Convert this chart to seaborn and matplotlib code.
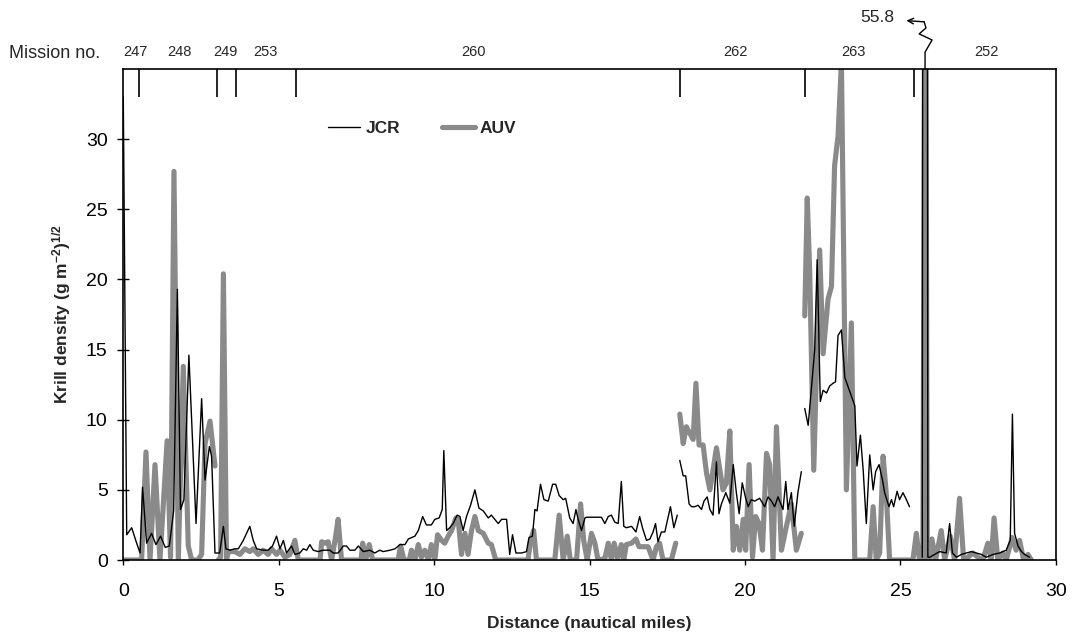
import numpy as np
import pandas as pd
import matplotlib
matplotlib.use("Agg")
import matplotlib.pyplot as plt
from matplotlib.lines import Line2D
import seaborn as sns

# ---------------- data (distance in nautical miles, density (g m^-2)^1/2) ----------------
jcr_seg1 = [(0.00, 33.0), (0.11, 1.8), (0.27, 2.3), (0.43, 1.2), (0.54, 0.5), (0.62, 5.2), (0.75, 1.2),
            (0.91, 1.9), (1.05, 1.1), (1.20, 1.7), (1.35, 0.9), (1.48, 1.0), (1.62, 3.5), (1.74, 19.3),
            (1.84, 3.6), (1.95, 4.3), (2.11, 14.6), (2.34, 2.6), (2.52, 11.5), (2.63, 5.7), (2.77, 8.1),
            (2.84, 7.4), (2.95, 0.5), (3.10, 0.5), (3.22, 2.4), (3.30, 0.8), (3.43, 0.7), (3.59, 0.8),
            (3.70, 0.8), (3.86, 1.4), (4.07, 2.4), (4.18, 1.4), (4.29, 0.8), (4.50, 0.7), (4.66, 0.7),
            (4.80, 1.0), (4.93, 1.7), (5.04, 0.8), (5.15, 1.4), (5.25, 0.5), (5.41, 1.0), (5.52, 0.4),
            (5.68, 0.5), (5.79, 0.8), (5.90, 0.7), (6.00, 1.1), (6.11, 0.7), (6.27, 0.6), (6.43, 0.7),
            (6.65, 0.7), (6.75, 0.5), (6.91, 0.5), (7.08, 1.0), (7.18, 1.0), (7.29, 0.7), (7.45, 0.7),
            (7.56, 1.0), (7.72, 0.6), (7.93, 0.7), (8.09, 0.5), (8.25, 0.7), (8.36, 0.6), (8.58, 0.7),
            (8.74, 0.8), (8.90, 1.1), (9.06, 1.1), (9.17, 1.5), (9.38, 1.7), (9.49, 2.1), (9.63, 3.1),
            (9.75, 2.5), (9.91, 2.5), (10.02, 2.9), (10.16, 3.0), (10.26, 3.6), (10.31, 7.8), (10.40, 2.1),
            (10.50, 2.3), (10.61, 2.6), (10.74, 3.2), (10.83, 3.1), (10.93, 2.1), (11.04, 3.1), (11.17, 3.9),
            (11.31, 5.0), (11.44, 3.7), (11.58, 3.5), (11.74, 3.0), (11.84, 3.2), (11.95, 2.9), (12.06, 2.6),
            (12.17, 2.9), (12.33, 2.9), (12.43, 0.4), (12.52, 1.8), (12.63, 0.5), (12.81, 0.5), (12.97, 0.6),
            (13.05, 1.6), (13.16, 1.7), (13.24, 3.6), (13.31, 3.5), (13.42, 5.4), (13.53, 4.3), (13.67, 4.2),
            (13.81, 5.4), (13.91, 5.4), (14.02, 4.6), (14.15, 4.3), (14.23, 4.4), (14.36, 3.0), (14.47, 2.6),
            (14.56, 3.6), (14.63, 2.9), (14.74, 2.1), (14.85, 3.0), (14.90, 3.05), (15.06, 3.05),
            (15.22, 3.05), (15.38, 3.05), (15.49, 2.6), (15.60, 3.1), (15.70, 3.2), (15.81, 2.7),
            (15.92, 2.6), (16.02, 5.6), (16.10, 2.4), (16.18, 2.3), (16.35, 2.4), (16.49, 2.0), (16.61, 3.1),
            (16.70, 2.3), (16.83, 1.4), (16.94, 1.5), (17.04, 2.0), (17.12, 2.6), (17.20, 1.3), (17.31, 2.0),
            (17.42, 2.0), (17.60, 3.8), (17.71, 2.3), (17.82, 3.2)]
jcr_seg2 = [(17.90, 7.1), (18.01, 6.0), (18.09, 6.0), (18.20, 4.0), (18.28, 3.8), (18.38, 3.8), (18.49, 3.9),
            (18.60, 3.6), (18.68, 4.2), (18.78, 4.5), (18.87, 3.6), (18.97, 3.2), (19.08, 7.0), (19.16, 3.3),
            (19.24, 4.0), (19.38, 4.8), (19.51, 4.05), (19.62, 6.8), (19.72, 4.8), (19.81, 3.3), (19.91, 5.5),
            (20.01, 4.5), (20.10, 3.8), (20.20, 4.3), (20.31, 4.2), (20.47, 4.4), (20.63, 3.8), (20.74, 4.5),
            (20.85, 4.2), (20.95, 3.8), (21.06, 4.5), (21.22, 3.6), (21.31, 5.6), (21.38, 3.6), (21.49, 4.8),
            (21.58, 2.4), (21.70, 4.8), (21.81, 6.3)]
jcr_seg3 = [(21.92, 10.8), (22.03, 9.6), (22.13, 12.1), (22.24, 15.0), (22.32, 21.4), (22.42, 11.3),
            (22.51, 12.1), (22.62, 11.9), (22.72, 12.4), (22.83, 12.6), (22.91, 12.7), (22.99, 16.0),
            (23.10, 16.4), (23.21, 13.0), (23.37, 12.0), (23.53, 11.0), (23.60, 6.7), (23.71, 8.9),
            (23.80, 6.4), (23.90, 2.6), (24.01, 7.5), (24.12, 5.0), (24.20, 6.3), (24.31, 6.8), (24.42, 5.7),
            (24.49, 4.8), (24.63, 3.8), (24.71, 4.3), (24.78, 3.8), (24.89, 4.9), (24.97, 4.3), (25.08, 4.8),
            (25.19, 4.3), (25.29, 3.8)]
jcr_seg4 = [(25.70, 0.2), (25.72, 55.8), (25.86, 55.8), (25.88, 0.2), (25.94, 0.2), (26.10, 0.4),
            (26.26, 0.6), (26.47, 0.5), (26.58, 2.6), (26.67, 0.5), (26.80, 0.2), (26.96, 0.4), (27.12, 0.5),
            (27.28, 0.6), (27.44, 0.5), (27.60, 0.4), (27.76, 0.2), (27.98, 0.4), (28.19, 0.5), (28.40, 0.7),
            (28.53, 1.4), (28.60, 10.4), (28.67, 1.9), (28.78, 1.0), (28.89, 0.6), (28.99, 0.4), (29.15, 0.2)]

auv_seg1 = [(0.00, 0.0), (0.59, 0.0), (0.73, 7.7), (0.86, 0.0), (1.02, 6.8), (1.18, 0.0), (1.41, 8.5),
            (1.52, 0.2), (1.63, 27.7), (1.77, 0.0), (1.93, 13.8), (2.09, 1.0), (2.20, 0.0), (2.40, 0.0),
            (2.52, 0.4), (2.63, 8.3), (2.79, 9.9), (2.95, 6.7)]
auv_seg2 = [(3.05, 0.0), (3.13, 0.2), (3.22, 20.4), (3.32, 0.0), (3.38, 0.6), (3.59, 0.6), (3.75, 0.4),
            (3.91, 0.8), (4.07, 0.6), (4.18, 0.8), (4.34, 0.4), (4.50, 0.7), (4.66, 0.4), (4.77, 0.8),
            (4.93, 0.4), (5.04, 0.7), (5.20, 0.2), (5.36, 0.4), (5.52, 1.4), (5.63, 0.0), (6.33, 0.0),
            (6.38, 1.3), (6.49, 1.2), (6.59, 1.3), (6.70, 0.0), (6.81, 1.4), (6.91, 2.9), (7.02, 0.0),
            (7.65, 0.0), (7.70, 1.2), (7.80, 0.0), (7.91, 1.1), (8.02, 0.0), (8.84, 0.0), (8.92, 1.0),
            (9.03, 0.0), (9.20, 0.0), (9.27, 0.7), (9.38, 0.0), (9.49, 1.1), (9.59, 0.2), (9.70, 0.7),
            (9.81, 0.0), (9.91, 1.1), (10.02, 0.0), (10.11, 1.8), (10.24, 1.4), (10.34, 1.2), (10.45, 1.7),
            (10.56, 2.1), (10.70, 3.0), (10.77, 2.9), (10.88, 0.4), (10.99, 1.9), (11.09, 0.4), (11.20, 2.1),
            (11.31, 3.1), (11.42, 2.1), (11.58, 1.9), (11.74, 1.2), (11.84, 1.1), (11.98, 0.0), (13.02, 0.0),
            (13.10, 1.4), (13.20, 2.1), (13.29, 0.0), (13.88, 0.0), (14.02, 3.2), (14.15, 0.0), (14.28, 1.7),
            (14.38, 0.0), (14.58, 0.0), (14.71, 4.0), (14.81, 1.4), (14.92, 0.0), (15.06, 1.9), (15.17, 1.2),
            (15.27, 0.0), (15.49, 0.1), (15.60, 1.2), (15.70, 0.0), (15.79, 1.2), (15.90, 0.1), (16.02, 1.1),
            (16.10, 0.0), (16.18, 1.1), (16.35, 1.2), (16.49, 1.5), (16.59, 0.95), (16.72, 0.95),
            (16.88, 0.95), (17.04, 0.0), (17.15, 0.95), (17.25, 1.2), (17.36, 0.0), (17.63, 0.0), (17.77, 1.2)]
auv_seg3 = [(17.90, 10.4), (18.01, 8.3), (18.11, 9.5), (18.22, 9.05), (18.33, 8.6), (18.42, 12.6),
            (18.52, 8.2), (18.65, 8.2), (18.76, 6.2), (18.87, 5.0), (18.97, 6.4), (19.08, 8.0), (19.19, 6.4),
            (19.29, 5.0), (19.40, 5.5), (19.51, 9.2), (19.62, 0.7), (19.72, 2.4), (19.83, 0.7), (19.94, 2.9),
            (20.02, 0.7), (20.13, 6.8), (20.24, 0.2), (20.34, 3.1), (20.45, 2.6), (20.56, 0.7), (20.69, 7.6),
            (20.79, 6.8), (20.90, 0.0), (21.01, 9.5), (21.17, 0.7), (21.33, 2.4), (21.49, 4.0), (21.65, 0.7),
            (21.81, 1.9)]
auv_seg4 = [(21.92, 17.4), (22.00, 25.8), (22.08, 20.5), (22.21, 6.4), (22.40, 22.1), (22.51, 14.7),
            (22.67, 18.6), (22.78, 19.5), (22.88, 28.1), (22.99, 30.2), (23.10, 35.5), (23.26, 5.0),
            (23.42, 16.9), (23.53, 0.0), (24.01, 0.0), (24.12, 3.8), (24.22, 0.0), (24.33, 0.5), (24.44, 7.4),
            (24.54, 4.8), (24.65, 0.0), (25.40, 0.0), (25.51, 1.9), (25.61, 0.0), (25.72, 0.0), (25.80, 55.8),
            (25.86, 0.0), (25.94, 0.0), (26.01, 1.5), (26.13, 0.0), (26.31, 2.1), (26.42, 0.0), (26.60, 1.7),
            (26.74, 0.0), (26.90, 4.4), (27.03, 0.0), (27.17, 0.2), (27.33, 0.5), (27.49, 0.2), (27.65, 0.0),
            (27.81, 1.2), (27.92, 0.0), (28.01, 3.0), (28.13, 0.0), (28.29, 0.5), (28.40, 0.0), (28.59, 1.6),
            (28.72, 0.7), (28.83, 1.4), (28.96, 0.0), (29.10, 0.4), (29.21, 0.0)]

mission_bounds = [0.52, 3.03, 3.63, 5.54, 17.90, 21.92, 25.42]
mission_labels = ["247", "248", "249", "253", "260", "262", "263", "252"]
mission_label_x = [0.38, 1.80, 3.27, 4.57, 11.28, 19.70, 23.50, 27.77]
off_scale_value = 55.8
x_ticks = [0, 5, 10, 15, 20, 25, 30]
y_ticks = [0, 5, 10, 15, 20, 25, 30]


def to_frame(segments):
    rows = []
    for i, seg in enumerate(segments):
        for d, v in seg:
            rows.append((i, d, v))
    return pd.DataFrame(rows, columns=["segment", "distance", "density"])


jcr_df = to_frame([jcr_seg1, jcr_seg2, jcr_seg3, jcr_seg4])
auv_df = to_frame([auv_seg1, auv_seg2, auv_seg3, auv_seg4])

# ---------------- style ----------------
sns.set_style("ticks")
plt.rcParams["font.family"] = ["Liberation Sans", "DejaVu Sans"]
plt.rcParams["mathtext.fontset"] = "custom"
plt.rcParams["mathtext.rm"] = "Liberation Sans"
plt.rcParams["mathtext.bf"] = "Liberation Sans:bold"
plt.rcParams["mathtext.default"] = "bf"

GRAY = "#8a8a8a"

fig = plt.figure(figsize=(10.73, 6.33), dpi=100)
ax = fig.add_axes([0.1149, 0.1153, 0.8692, 0.7757])

sns.lineplot(data=auv_df, x="distance", y="density", units="segment", estimator=None, sort=False,
             color=GRAY, lw=3.7, ax=ax, legend=False,
             solid_capstyle="round", solid_joinstyle="round")
sns.lineplot(data=jcr_df, x="distance", y="density", units="segment", estimator=None, sort=False,
             color="black", lw=1.0, ax=ax, legend=False)

ax.set_xlim(0, 30)
ax.set_ylim(0, 35)
ax.set_xticks(x_ticks)
ax.set_yticks(y_ticks)
ax.tick_params(axis="x", direction="out", length=3.6, width=1.0, pad=13, labelsize=14, colors="black")
ax.tick_params(axis="y", direction="inout", length=8.5, width=1.0, pad=7, labelsize=14, colors="black")
for s in ax.spines.values():
    s.set_color("black")
    s.set_linewidth(1.2)

ax.set_xlabel("Distance (nautical miles)", fontsize=12.5, fontweight="bold")
ax.set_ylabel(r"Krill density (g m$^{-2}$)$^{1/2}$", fontsize=12.5, fontweight="bold")
ax.xaxis.set_label_coords(0.5, -0.114)
ax.yaxis.set_label_coords(-0.054, 0.5)

# mission division ticks hanging from the top frame
ax.vlines(mission_bounds, 33, 35, colors="black", lw=1.2, clip_on=False)
for xl, lab in zip(mission_label_x, mission_labels):
    ax.text(xl, 36.2, lab, ha="center", va="center", fontsize=10.5, clip_on=False)
fig.text(0.008, 1 - 53 / 633, "Mission no.", fontsize=13, ha="left", va="center")

# off-scale marker for the spike
spike_x = float(np.mean([d for d, v in jcr_seg4 if v == off_scale_value]))
brk_x = spike_x + np.array([0.0, 0.0, 0.225, -0.19, 0.03, -0.03])
brk_y = np.array([35.0, 36.2, 37.07, 37.5, 37.93, 38.36])
ax.plot(brk_x, brk_y, color="black", lw=1.0, clip_on=False)
ax.annotate("", xy=(spike_x - 0.6, 38.45), xytext=(spike_x - 0.02, 38.36),
            arrowprops=dict(arrowstyle="->", lw=1.0, color="black", shrinkA=0, shrinkB=0),
            annotation_clip=False)
ax.text(spike_x - 0.98, 38.7, f"{off_scale_value}", ha="right", va="center", fontsize=12.5, clip_on=False)

# legend
handles = [Line2D([], [], color="black", lw=1.0),
           Line2D([], [], color=GRAY, lw=3.7, solid_capstyle="round")]
ax.legend(handles, ["JCR", "AUV"], ncol=2, frameon=False, loc="center left",
          bbox_to_anchor=(0.2194, 0.878), borderpad=0, borderaxespad=0,
          handlelength=1.85, handletextpad=0.3, columnspacing=2.45,
          prop={"weight": "bold", "size": 12.5})

fig.savefig("out.png", dpi=100)
